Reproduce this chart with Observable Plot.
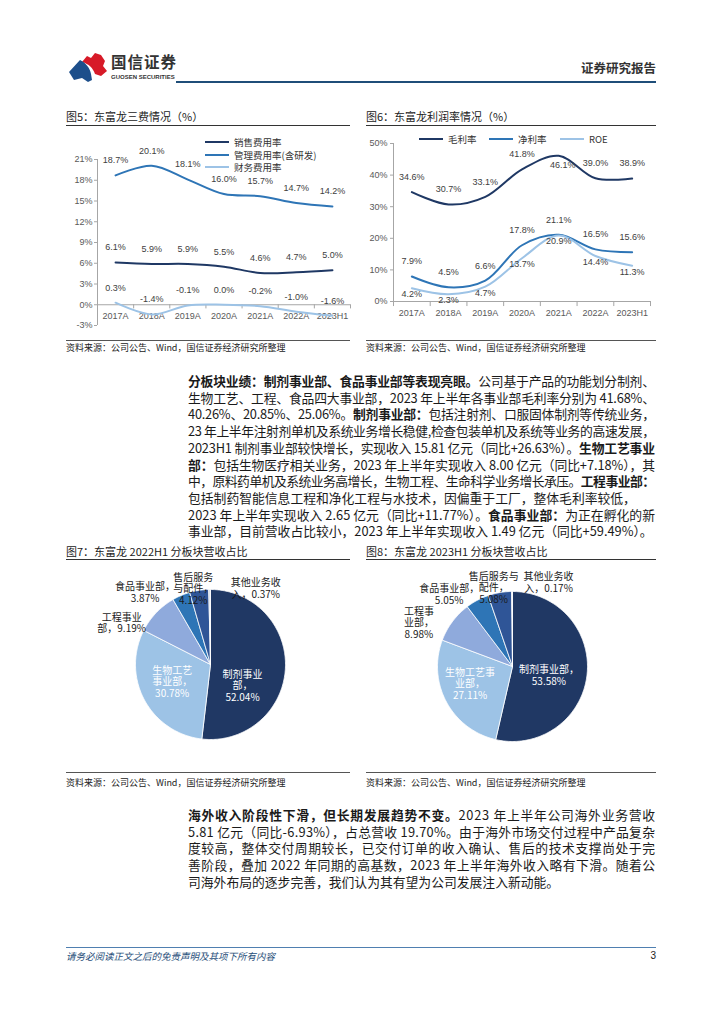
<!DOCTYPE html>
<html><head><meta charset="utf-8">
<script src="https://cdn.jsdelivr.net/npm/d3@7"></script>
<script src="https://cdn.jsdelivr.net/npm/@observablehq/plot@0.6"></script>
<style>
html,body{margin:0;padding:0;background:#fff;}
#page{position:relative;width:724px;height:1024px;overflow:hidden;font-family:"Noto Sans CJK SC","Liberation Sans",sans-serif;color:#222;}
.abs{position:absolute;}
.figtitle{position:absolute;font-size:11px;line-height:14px;color:#222;white-space:nowrap;}
.rule{position:absolute;height:0;border-top:1px solid #333;}
.rule.grey{border-top:1px solid #555;}
.src{position:absolute;font-size:9px;line-height:12px;color:#222;white-space:nowrap;}
.ln{position:absolute;left:188px;white-space:nowrap;font-size:12.8px;line-height:16px;color:#1a1a1a;}
.ln b{font-weight:700;}
.leg{position:absolute;font-size:9.5px;line-height:12px;color:#333;white-space:nowrap;}
.leg i{display:inline-block;width:24px;height:0;border-top:2.5px solid;vertical-align:middle;margin-right:5px;position:relative;top:-1px;}
.chart{position:absolute;}
</style></head>
<body><div id="page"></div>
<script>
// ---------------- data ----------------
const years = ["2017A","2018A","2019A","2020A","2021A","2022A","2023H1"];
const sellingExpenseRate = [6.1,5.9,5.9,5.5,4.6,4.7,5.0];
const adminExpenseRate = [18.7,20.1,18.1,16.0,15.7,14.7,14.2];
const financeExpenseRate = [0.3,-1.4,-0.1,0.0,-0.2,-1.0,-1.6];
const fig5Ticks = [-3,0,3,6,9,12,15,18,21];
const grossMargin = [34.6,30.7,33.1,41.8,46.1,39.0,38.9];
const netMargin = [7.9,4.5,6.6,17.8,21.1,16.5,15.6];
const roe = [4.2,2.3,4.7,13.7,20.9,14.4,11.3];
const fig6Ticks = [0,10,20,30,40,50];
const segments = ["制剂事业部","生物工艺事业部","工程事业部","食品事业部","售后服务与配件","其他业务收入"];
const share2022H1 = [52.04,30.78,9.19,3.87,4.12,0.37];
const share2023H1 = [53.58,27.11,8.98,5.05,5.08,0.17];

// ---------------- styles / layout (not data) ----------------
const C_NAVY = "#1f3864", C_MID = "#2e75b6", C_LIGHT = "#9dc3e6";
const pieColors = ["#203864","#9dc3e6","#8faadc","#2e75b6","#2f5597","#d6dce5"];
const breaks2022 = [[4,6],[4,8],[4],[6],[4,8],[5]];
const breaks2023 = [[6],[5,8],[3,6],[6],[5,8],[5]];
// label placement: [angle offset from slice middle (deg), radius (in pie radii)]
const lay2022 = [[29.8,0.51],[3.9,0.56],[-18.3,1.31],[-19.1,1.30],[-4.1,1.04],[31.4,1.18]];
const lay2023 = [[7.5,0.50],[6.2,0.61],[-11.5,1.38],[-13.3,1.28],[-3.7,1.08],[23.5,1.22]];

const page = document.getElementById("page");
function el(tag, cls, css, html){const e=document.createElement(tag); if(cls)e.className=cls; if(css)e.style.cssText=css; if(html!=null)e.innerHTML=html; page.appendChild(e); return e;}

// ---------------- header ----------------
el("div","abs","left:68px;top:51px;width:40px;height:32px;",
 `<svg width="40" height="32" viewBox="0 0 40 32">
  <path d="M14,11 L19,5 L23,7 L27,2 L33,4 L37,10 L35,15 L39,20 L33,25 L27,23 C25,17 21,13 14,11 Z" fill="#d71a28"/>
  <path d="M1,21 L12,9 C18,12 22,17 23,23 L24,29 L20,31 L14,27 L6,29 Z" fill="#1d4f8b"/></svg>`);
el("div","abs","left:111px;top:52px;font-size:15.5px;line-height:18px;font-weight:700;color:#333;letter-spacing:1px;white-space:nowrap;","国信证券");
el("div","abs","left:111px;top:74px;font-size:6px;line-height:7px;font-weight:700;color:#333;white-space:nowrap;font-family:'Liberation Sans',sans-serif;","GUOSEN SECURITIES");
el("div","abs","left:176px;top:81px;width:480px;height:2px;background:#1f4e79;");
el("div","abs","left:560px;top:60px;width:96px;text-align:right;font-size:12.5px;line-height:16px;font-weight:700;color:#333;white-space:nowrap;","证券研究报告");

// ---------------- figure titles & rules ----------------
el("div","figtitle","left:66px;top:109px;","图5：东富龙三费情况（%）");
el("div","figtitle","left:366px;top:109px;","图6：东富龙利润率情况（%）");
el("div","rule","left:66px;top:125px;width:284px;");
el("div","rule","left:366px;top:125px;width:290px;");
el("div","rule grey","left:66px;top:340px;width:284px;");
el("div","rule grey","left:366px;top:340px;width:290px;");
el("div","src","left:66px;top:342px;","资料来源：公司公告、Wind，国信证券经济研究所整理");
el("div","src","left:366px;top:342px;","资料来源：公司公告、Wind，国信证券经济研究所整理");

el("div","figtitle","left:66px;top:544px;","图7：东富龙 2022H1 分板块营收占比");
el("div","figtitle","left:366px;top:544px;","图8：东富龙 2023H1 分板块营收占比");
el("div","rule","left:66px;top:559px;width:284px;");
el("div","rule","left:366px;top:559px;width:290px;");
el("div","rule grey","left:66px;top:772px;width:284px;");
el("div","rule grey","left:366px;top:772px;width:290px;");
el("div","src","left:66px;top:777px;","资料来源：公司公告、Wind，国信证券经济研究所整理");
el("div","src","left:366px;top:777px;","资料来源：公司公告、Wind，国信证券经济研究所整理");

// ---------------- line charts ----------------
const axisStyle = {fontFamily:"'Liberation Sans','Noto Sans CJK SC',sans-serif",fontSize:"9px",color:"#595959",background:"transparent",overflow:"visible"};

// Figure 5
{
  const series = [
    {name:"销售费用率", vals:sellingExpenseRate, color:C_NAVY},
    {name:"管理费用率(含研发)", vals:adminExpenseRate, color:C_MID},
    {name:"财务费用率", vals:financeExpenseRate, color:C_LIGHT}
  ];
  const rows = series.flatMap(s => s.vals.map((v,i)=>({i, v, s:s.name})));
  const marks = [
    Plot.ruleY([0], {stroke:"#a6a6a6"}),
    Plot.ruleX([-0.5], {y1:-3, y2:21, stroke:"#a6a6a6"}),
    Plot.axisY({ticks:fig5Ticks, tickFormat:d=>d+"%", label:null, tickSize:3, tickPadding:2, stroke:"#a6a6a6", fill:"#595959", fontSize:9}),
    Plot.ruleX(d3.range(-0.5, years.length, 1), {y1:0, y2:-0.6, stroke:"#a6a6a6"}),
    Plot.text(years, {x:(d,i)=>i, y:0, dy:11, text:d=>d, fill:"#595959", fontSize:9})
  ];
  series.forEach(s=>marks.push(Plot.line(rows.filter(r=>r.s===s.name), {x:"i", y:"v", stroke:s.color, strokeWidth:2, curve:"catmull-rom"})));
  series.forEach(s=>marks.push(Plot.text(rows.filter(r=>r.s===s.name), {x:"i", y:"v", text:d=>d.v.toFixed(1)+"%", dy:-15, fill:"#404040", fontSize:9})));
  const chart = Plot.plot({
    width:284, height:205, marginLeft:31, marginRight:0, marginTop:31, marginBottom:8,
    x:{type:"linear", domain:[-0.5, years.length-0.5], axis:null},
    y:{domain:[-3,21], axis:null}, style:axisStyle, marks
  });
  el("div","chart","left:66px;top:128px;").appendChild(chart);
  series.forEach((s,k)=>{
    el("div","leg",`left:205px;top:${136+k*12.5}px;`,`<i style="border-color:${s.color}"></i>${s.name}`);
  });
}

// Figure 6
{
  const series = [
    {name:"毛利率", vals:grossMargin, color:C_NAVY},
    {name:"净利率", vals:netMargin, color:C_MID},
    {name:"ROE", vals:roe, color:C_LIGHT}
  ];
  const rows = series.flatMap(s => s.vals.map((v,i)=>({i, v, s:s.name})));
  const marks = [
    Plot.ruleY([0], {stroke:"#a6a6a6"}),
    Plot.ruleX([-0.5], {y1:0, y2:50, stroke:"#a6a6a6"}),
    Plot.axisY({ticks:fig6Ticks, tickFormat:d=>d+"%", label:null, tickSize:3, tickPadding:3, stroke:"#a6a6a6", fill:"#595959", fontSize:9}),
    Plot.ruleX(d3.range(-0.5, years.length, 1), {y1:0, y2:-1.6, stroke:"#a6a6a6"}),
    Plot.text(years, {x:(d,i)=>i, y:0, dy:12, text:d=>d, fill:"#595959", fontSize:9})
  ];
  series.forEach(s=>marks.push(Plot.line(rows.filter(r=>r.s===s.name), {x:"i", y:"v", stroke:s.color, strokeWidth:2, curve:"catmull-rom"})));
  const gm = rows.filter(r=>r.s==="毛利率"), gmMax = d3.max(grossMargin);
  marks.push(Plot.text(gm.filter(r=>r.v!==gmMax), {x:"i", y:"v", text:d=>d.v.toFixed(1)+"%", dy:-15, fill:"#404040", fontSize:9}));
  marks.push(Plot.text(gm.filter(r=>r.v===gmMax), {x:"i", y:"v", text:d=>d.v.toFixed(1)+"%", dy:9, dx:4, fill:"#404040", fontSize:9}));
  marks.push(Plot.text(rows.filter(r=>r.s==="净利率"), {x:"i", y:"v", text:d=>d.v.toFixed(1)+"%", dy:-15, fill:"#404040", fontSize:9}));
  marks.push(Plot.text(rows.filter(r=>r.s==="ROE"), {x:"i", y:"v", text:d=>d.v.toFixed(1)+"%", dy:6, fill:"#404040", fontSize:9}));
  const chart = Plot.plot({
    width:290, height:205, marginLeft:27, marginRight:6, marginTop:15, marginBottom:32,
    x:{type:"linear", domain:[-0.5, years.length-0.5], axis:null},
    y:{domain:[0,50], axis:null}, style:axisStyle, marks
  });
  el("div","chart","left:366px;top:128px;").appendChild(chart);
  const legX=[419,489,560];
  series.forEach((s,k)=>{
    el("div","leg",`left:${legX[k]}px;top:133px;`,`<i style="border-color:${s.color}"></i>${s.name}`);
  });
}

// ---------------- pie charts ----------------
function pie(shares, breaks, layout, dom){
  const total = d3.sum(shares);
  let acc = 0;
  const poly = [], labs = [];
  shares.forEach((v,i)=>{
    const a0 = acc/total*2*Math.PI; acc += v; const a1 = acc/total*2*Math.PI;
    const n = Math.max(2, Math.ceil((a1-a0)/(Math.PI/180)));
    poly.push({i, x:0, y:0});
    for(let k=0;k<=n;k++){const a=a0+(a1-a0)*k/n; poly.push({i, x:Math.sin(a), y:Math.cos(a)});}
    poly.push({i, x:0, y:0});
    const am = (a0+a1)/2 + layout[i][0]*Math.PI/180, r = layout[i][1];
    const full = segments[i] + "，" + v.toFixed(2) + "%";
    const parts=[]; let p=0; for(const b of breaks[i]){parts.push(full.slice(p,b)); p=b;} parts.push(full.slice(p));
    labs.push({i, x:r*Math.sin(am), y:r*Math.cos(am), text:parts.join("\n"), inside:r<1});
  });
  return Plot.plot({
    width:290, height:205, margin:0,
    x:{domain:dom.x, axis:null}, y:{domain:dom.y, axis:null},
    style:{fontFamily:"'Noto Sans CJK SC',sans-serif", background:"transparent", overflow:"visible"},
    marks:[
      Plot.line(poly, {x:"x", y:"y", z:"i", fill:d=>pieColors[d.i], stroke:"white", strokeWidth:0.8, strokeLinejoin:"round"}),
      Plot.text(labs, {x:"x", y:"y", text:"text", fill:d=>d.inside?"#ffffff":"#1a1a1a", fontSize:10, lineHeight:1.15})
    ]
  });
}
{
  const c7 = pie(share2022H1, breaks2022, lay2022, {x:[-144/75, 146/75], y:[-103/75, 102/75]});
  el("div","chart","left:66px;top:562px;").appendChild(c7);
  const c8 = pie(share2023H1, breaks2023, lay2023, {x:[-146/75, 144/75], y:[-101/75, 104/75]});
  el("div","chart","left:366px;top:562px;").appendChild(c8);
}

// ---------------- body text ----------------
const para1 = [
 "**分板块业绩：制剂事业部、食品事业部等表现亮眼。**公司基于产品的功能划分制剂、",
 "生物工艺、工程、食品四大事业部，2023 年上半年各事业部毛利率分别为 41.68%、",
 "40.26%、20.85%、25.06%。**制剂事业部：**包括注射剂、口服固体制剂等传统业务，",
 "23 年上半年注射剂单机及系统业务增长稳健,检查包装单机及系统等业务的高速发展，",
 "2023H1 制剂事业部较快增长，实现收入 15.81 亿元（同比+26.63%）。**生物工艺事业**",
 "**部：**包括生物医疗相关业务，2023 年上半年实现收入 8.00 亿元（同比+7.18%），其",
 "中，原料药单机及系统业务高增长，生物工程、生命科学业务增长承压。**工程事业部：**",
 "包括制药智能信息工程和净化工程与水技术，因偏重于工厂，整体毛利率较低，",
 "2023 年上半年实现收入 2.65 亿元（同比+11.77%）。**食品事业部：**为正在孵化的新",
 "事业部，目前营收占比较小，2023 年上半年实现收入 1.49 亿元（同比+59.49%）。"
];
const para2 = [
 "**海外收入阶段性下滑，但长期发展趋势不变。**2023 年上半年公司海外业务营收",
 "5.81 亿元（同比-6.93%），占总营收 19.70%。由于海外市场交付过程中产品复杂",
 "度较高，整体交付周期较长，已交付订单的收入确认、售后的技术支撑尚处于完",
 "善阶段，叠加 2022 年同期的高基数，2023 年上半年海外收入略有下滑。随着公",
 "司海外布局的逐步完善，我们认为其有望为公司发展注入新动能。"
];
function writePara(lines, top0, noJustify){
  lines.forEach((t,k)=>{
    const html = t.split("**").map((s,j)=> j%2 ? `<b>${s}</b>` : s).join("");
    const d = el("div","ln",`top:${top0 + k*16.7}px;`, html);
    const w = d.getBoundingClientRect().width, target = 467;
    const n = t.replace(/\*\*/g,"").length;
    if (!noJustify.includes(k) || w > target) d.style.letterSpacing = ((target - w)/(n-1)) + "px";
  });
}
writePara(para1, 373, [7,9]);
writePara(para2, 807, [4]);

// ---------------- footer ----------------
el("div","abs","left:66px;top:947px;width:590px;height:1px;background:#4f7fb0;");
el("div","abs","left:66px;top:950px;font-size:9.5px;line-height:12px;font-style:italic;color:#1f4e79;white-space:nowrap;","请务必阅读正文之后的免责声明及其项下所有内容");
el("div","abs","left:640px;top:950px;width:16px;text-align:right;font-size:10px;line-height:12px;color:#222;font-family:'Liberation Sans',sans-serif;","3");
</script></body></html>
